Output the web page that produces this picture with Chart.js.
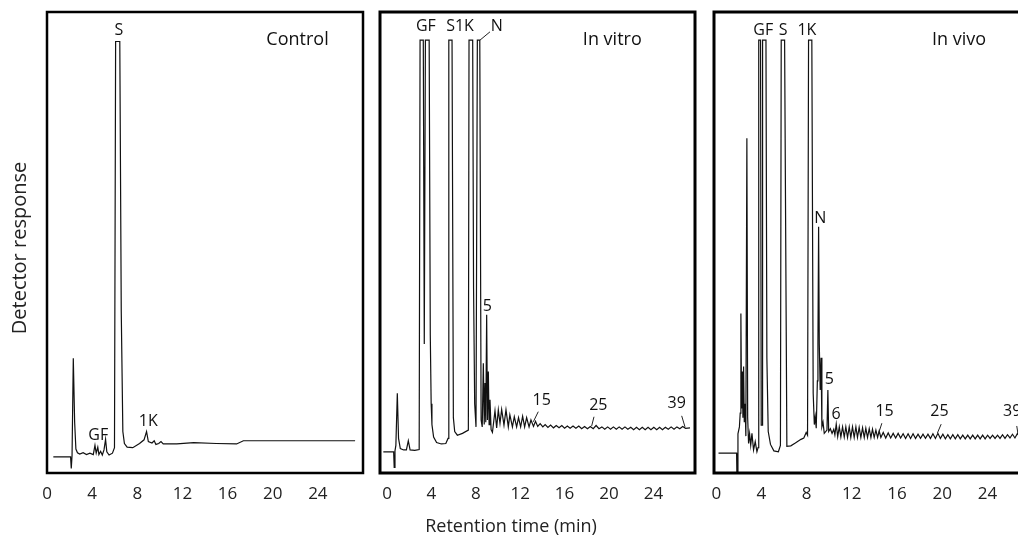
<!DOCTYPE html>
<html>
<head>
<meta charset="utf-8">
<script src="https://cdn.jsdelivr.net/npm/chart.js@4.4.1/dist/chart.umd.min.js"></script>
<style>
html, body { margin: 0; padding: 0; background: #fff; overflow: hidden; width: 1018px; height: 539px; }
canvas { position: absolute; left: 0; top: 0; }
</style>
</head>
<body>
<canvas id="control" width="1060" height="539"></canvas>
<canvas id="vitro" width="1060" height="539"></canvas>
<canvas id="vivo" width="1060" height="539"></canvas>
<script>
// retention time (min) ticks shown under every panel
var timeTicks = [0, 4, 8, 12, 16, 20, 24];
var panelNames = ['Control', 'In vitro', 'In vivo'];

// [time (min), detector response (% of full scale)]
var controlTrace = [
    [0.56,3.5],[2.09,3.5],[2.15,1.0],[2.22,3.8],[2.33,24.9],[2.45,11.0],[2.56,5.2],[2.7,4.4],
    [2.9,4.1],[3.2,4.4],[3.5,4.0],[3.8,4.3],[4.1,4.0],[4.25,6.0],[4.36,4.3],[4.5,5.6],[4.6,4.0],
    [4.75,4.7],[4.9,3.9],[5.05,5.0],[5.19,7.3],[5.3,4.6],[5.5,3.9],[5.8,4.3],[5.98,5.5],
    [6.08,93.6],[6.45,93.6],[6.58,35.0],[6.72,9.0],[6.86,6.4],[7.1,5.6],[7.6,5.5],[8.2,6.4],
    [8.6,7.2],[8.82,9.0],[8.98,6.8],[9.3,6.5],[9.5,7.0],[9.65,6.2],[9.9,6.4],[10.1,6.8],
    [10.3,6.3],[11.5,6.3],[13.0,6.6],[15.0,6.4],[16.8,6.3],[17.4,7.0],[20.0,7.0],[23.6,7.0],[27.3,7.0]
];

var vitroTrace = [
    [-0.33,4.6],[0.6,4.6],[0.65,1.2],[0.72,4.8],[0.8,6.0],[0.93,17.3],[1.04,7.5],[1.2,5.3],
    [1.5,5.0],[1.75,5.0],[1.92,7.0],[2.08,5.0],[2.5,4.9],[2.9,5.1],[2.98,93.9],[3.27,93.9],
    [3.36,28.0],[3.46,93.9],[3.8,93.9],[3.9,30.0],[3.98,15.0],[4.05,10.5],[4.2,7.8],[4.47,6.6],
    [4.9,6.3],[5.3,6.4],[5.5,7.5],[5.57,93.9],[5.86,93.9],[5.98,12.0],[6.1,9.0],[6.34,8.2],
    [6.8,8.6],[7.33,9.3],[7.39,93.9],[7.72,93.9],[7.8,40.0],[7.9,15.0],[8.02,10.0],[8.14,93.9],
    [8.36,93.9],[8.48,11.5],[8.58,10.0],[8.68,23.8],[8.76,10.5],[8.83,19.5],[8.9,11.0],[8.98,34.3],
    [9.05,11.5],[9.13,22.0],[9.2,10.5],[9.28,15.9],[9.38,9.4],[9.5,8.8],[9.73,13.5],[9.88,9.8],
    [10.03,13.7],[10.18,10.8],[10.33,13.8],[10.54,10.4],[10.72,13.7],[10.93,10.0],[11.07,12.6],
    [11.3,10.0],[11.47,12.2],[11.68,10.0],[11.85,12.0],[12.04,10.0],[12.22,12.3],[12.4,10.0],
    [12.58,12.0],[12.8,10.0],[12.97,11.5],[13.2,10.1],[13.38,11.2],[13.58,10.1],[13.8,10.7],
    [14.04,10.0],[14.25,10.5],[14.5,9.9],[14.74,10.4],[15.0,9.8],[15.25,10.3],[15.5,9.8],
    [15.75,10.3],[16.0,9.7],[16.25,10.2],[16.5,9.7],[16.76,10.2],[17.02,9.7],[17.28,10.2],
    [17.54,9.6],[17.8,10.1],[18.06,9.6],[18.32,10.1],[18.58,9.6],[18.84,10.3],[19.1,9.6],
    [19.36,10.0],[19.62,9.5],[19.88,10.0],[20.14,9.5],[20.4,10.0],[20.66,9.5],[20.92,10.0],
    [21.18,9.5],[21.44,10.0],[21.7,9.5],[21.96,9.9],[22.22,9.4],[22.48,9.9],[22.74,9.4],
    [23.0,9.9],[23.26,9.4],[23.52,9.9],[23.78,9.4],[24.04,9.9],[24.3,9.4],[24.56,9.9],
    [24.82,9.4],[25.08,9.9],[25.34,9.5],[25.6,10.0],[25.86,9.5],[26.12,10.0],[26.38,9.6],
    [26.64,10.1],[26.9,9.7],[27.3,9.8]
];

var vivoTrace = [
    [0.2,4.3],[1.8,4.3],[1.83,-1],[1.86,-1],[1.92,8.5],[2.05,10.0],[2.12,13.0],[2.18,34.6],
    [2.24,14.0],[2.3,22.0],[2.36,12.0],[2.42,23.1],[2.48,11.0],[2.55,15.0],[2.62,8.0],[2.71,72.6],
    [2.78,12.0],[2.86,6.4],[2.95,8.5],[3.05,6.0],[3.16,8.6],[3.3,5.0],[3.45,6.8],[3.6,4.6],
    [3.7,5.5],[3.76,93.9],[3.92,93.9],[3.98,10.4],[4.06,10.4],[4.1,93.9],[4.4,93.9],[4.48,25.0],
    [4.6,9.0],[4.8,6.2],[5.1,4.8],[5.5,4.6],[5.68,6.0],[5.75,93.9],[6.05,93.9],[6.25,5.8],
    [6.6,5.9],[7.0,6.5],[7.5,7.3],[7.75,7.6],[7.96,8.8],[8.08,8.2],[8.17,93.9],[8.46,93.9],
    [8.58,17.3],[8.68,10.5],[8.76,12.2],[8.85,9.7],[8.95,20.0],[9.0,28.0],[9.06,53.4],[9.12,28.0],
    [9.2,18.0],[9.28,25.0],[9.35,10.0],[9.45,11.0],[9.56,8.6],[9.8,9.3],[9.88,18.0],[9.95,9.0],
    [10.1,9.6],[10.25,8.6],[10.4,9.5],[10.5,8.3],[10.62,10.6],[10.75,7.9],[10.89,10.0],[11.03,7.8],
    [11.18,10.0],[11.33,7.8],[11.47,10.0],[11.62,7.7],[11.77,10.0],[11.91,7.7],[12.06,10.0],
    [12.21,7.7],[12.36,10.0],[12.5,7.7],[12.65,9.9],[12.8,7.7],[12.95,9.8],[13.1,7.7],[13.24,9.7],
    [13.39,7.7],[13.54,9.6],[13.69,7.7],[13.83,9.5],[13.98,7.7],[14.13,9.3],[14.28,7.7],[14.42,9.1],
    [14.57,7.7],[14.78,8.8],[15.0,7.6],[15.22,8.7],[15.44,7.6],[15.66,8.6],[15.88,7.6],[16.1,8.6],
    [16.32,7.6],[16.54,8.5],[16.76,7.5],[16.98,8.5],[17.2,7.5],[17.42,8.5],[17.64,7.5],[17.86,8.4],
    [18.08,7.5],[18.3,8.4],[18.52,7.5],[18.74,8.4],[18.96,7.5],[19.18,8.5],[19.4,7.5],[19.62,8.6],
    [19.84,7.5],[20.06,8.4],[20.28,7.4],[20.5,8.3],[20.72,7.4],[20.94,8.3],[21.16,7.4],[21.38,8.3],
    [21.6,7.4],[21.82,8.2],[22.04,7.4],[22.26,8.2],[22.48,7.4],[22.7,8.2],[22.92,7.4],[23.14,8.2],
    [23.36,7.4],[23.58,8.2],[23.8,7.4],[24.02,8.2],[24.24,7.5],[24.46,8.2],[24.68,7.5],[24.9,8.2],
    [25.12,7.5],[25.34,8.3],[25.56,7.5],[25.78,8.3],[26.0,7.6],[26.22,8.4],[26.44,7.6],[26.66,8.6],
    [26.88,7.7],[27.5,7.8]
];

// peak labels: [text, time, response]
var controlPeaks = [['S',6.37,96.1],['GF',4.54,8.2],['1K',8.97,11.1]];
var vitroPeaks = [['GF',3.5,96.8],['S1K',6.58,96.8],['N',9.9,96.8],['5',9.04,36.1],
                  ['15',13.94,15.8],['25',19.04,14.7],['39',26.1,15.1]];
var vivoPeaks = [['GF',4.16,96.1],['S',5.93,96.1],['1K',8.02,96.1],['N',9.2,55.2],
                 ['5',10.0,20.2],['6',10.6,12.6],['15',14.9,13.4],['25',19.76,13.4],['39',26.2,13.4]];

// pointer lines from a label to its peak: [t1, r1, t2, r2]
var vitroLeaders = [[9.28,95.7,8.38,93.9],[13.63,13.3,13.18,11.1],[18.65,12.2,18.44,10.2],[26.55,12.4,26.85,10.0]];
var vivoLeaders = [[14.66,10.8,14.37,8.6],[19.91,10.6,19.58,8.7],[26.6,10.2,26.7,8.6]];

var FONT = '"Open Sans", "Noto Sans", sans-serif';

function panelPlugin(name, nameAt, peaks, leaders, frameWidth, withTitles) {
    return {
        id: 'panel_' + name.replace(' ', ''),
        afterDatasetsDraw: function (chart) {
            var ctx = chart.ctx, a = chart.chartArea;
            var x = chart.scales.x, y = chart.scales.y;
            ctx.save();
            ctx.strokeStyle = '#000';
            ctx.lineWidth = frameWidth;
            ctx.strokeRect(a.left, a.top, a.right - a.left, a.bottom - a.top);

            ctx.lineWidth = 1;
            ctx.strokeStyle = '#222';
            leaders.forEach(function (l) {
                ctx.beginPath();
                ctx.moveTo(x.getPixelForValue(l[0]), y.getPixelForValue(l[1]));
                ctx.lineTo(x.getPixelForValue(l[2]), y.getPixelForValue(l[3]));
                ctx.stroke();
            });

            ctx.fillStyle = '#111';
            ctx.textAlign = 'center';
            ctx.textBaseline = 'middle';
            ctx.font = '16px ' + FONT;
            peaks.forEach(function (p) {
                ctx.fillText(p[0], x.getPixelForValue(p[1]), y.getPixelForValue(p[2]));
            });
            ctx.font = '18px ' + FONT;
            ctx.fillText(name, x.getPixelForValue(nameAt[0]), y.getPixelForValue(nameAt[1]));

            if (withTitles) {
                ctx.fillStyle = '#222';
                ctx.font = '18px ' + FONT;
                ctx.fillText('Retention time (min)', 511, 527);
                ctx.font = '20px ' + FONT;
                ctx.translate(20, 248);
                ctx.rotate(-Math.PI / 2);
                ctx.fillText('Detector response', 0, 0);
            }
            ctx.restore();
        }
    };
}

function draw(id, trace, xMin, xMax, left, right, plugin) {
    var ctx = document.getElementById(id).getContext('2d');
    return new Chart(ctx, {
        type: 'line',
        data: {
            datasets: [{
                data: trace.map(function (p) { return {x: p[0], y: p[1]}; }),
                borderColor: '#111',
                borderWidth: 1.2,
                pointRadius: 0,
                tension: 0,
                fill: false
            }]
        },
        options: {
            responsive: false,
            animation: false,
            events: [],
            layout: { padding: { left: left, right: 1060 - right, top: 12, bottom: 26 } },
            plugins: { legend: { display: false }, tooltip: { enabled: false } },
            scales: {
                x: {
                    type: 'linear',
                    min: xMin,
                    max: xMax,
                    grid: { display: false },
                    border: { display: false },
                    afterBuildTicks: function (s) {
                        s.ticks = timeTicks.map(function (v) { return {value: v}; });
                    },
                    afterFit: function (s) { s.height = 40; },
                    ticks: {
                        font: { family: FONT, size: 17 },
                        color: '#222',
                        padding: 3,
                        maxRotation: 0,
                        autoSkip: false
                    }
                },
                y: { display: false, min: 0, max: 100 }
            }
        },
        plugins: [plugin]
    });
}

draw('control', controlTrace, 0, 28.0, 47, 363,
    panelPlugin(panelNames[0], [22.2, 93.9], controlPeaks, [], 2.5, true));
draw('vitro', vitroTrace, -0.63, 27.75, 380, 695,
    panelPlugin(panelNames[1], [20.3, 93.9], vitroPeaks, vitroLeaders, 3, false));
draw('vivo', vivoTrace, -0.2, 29.1, 714, 1045,
    panelPlugin(panelNames[2], [21.5, 93.9], vivoPeaks, vivoLeaders, 3, false));
</script>
</body>
</html>
